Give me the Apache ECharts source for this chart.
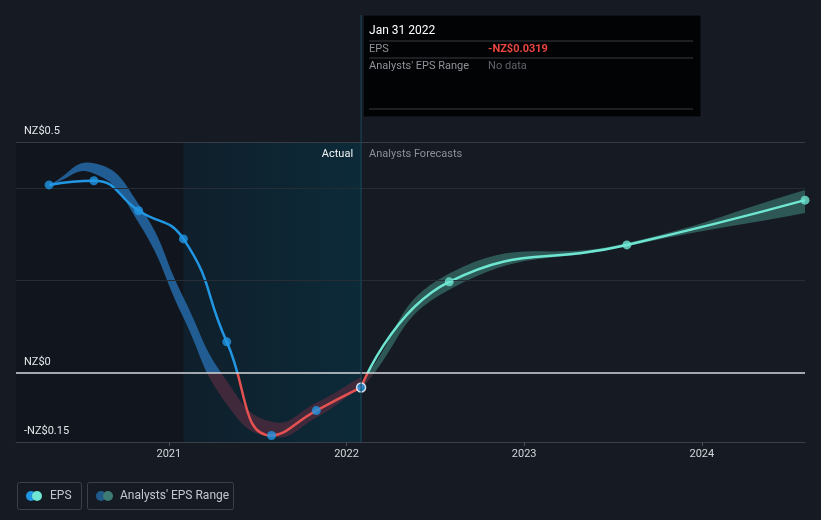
<!DOCTYPE html>
<html><head><meta charset="utf-8">
<script src="https://cdn.jsdelivr.net/npm/echarts@6/dist/echarts.min.js"></script>
<style>html,body{margin:0;padding:0;background:#151a23}#c{width:821px;height:520px}</style>
</head><body><div id="c"></div>
<script>
// ---- data ----
const actualDates = ['2020-04-30','2020-07-31','2020-10-31','2021-01-31','2021-04-30','2021-07-31','2021-10-31','2022-01-31'];
const actualEps = [0.407, 0.416, 0.351, 0.290, 0.067, -0.136, -0.082, -0.0319];
const pastRangeLow = [0.407, 0.432, 0.325, 0.119, -0.068, -0.139, -0.097, -0.030];
const pastRangeHigh = [0.407, 0.454, 0.365, 0.163, -0.018, -0.106, -0.065, -0.009];
const forecastDates = ['2022-01-31','2022-07-31','2023-07-31','2024-07-31'];
const forecastEps = [-0.0319, 0.197, 0.277, 0.374];
const forecastLow = [-0.035, 0.180, 0.274, 0.346];
const forecastHigh = [-0.020, 0.215, 0.281, 0.396];
const yLabelValues = [-0.15, 0, 0.5];
const yGridValues = [0.2, 0.4, 0.5];
const xTickYears = [2021, 2022, 2023, 2024];
const axisStart = '2020-02-22';
const axisEnd = '2024-07-31';
const highlightStart = '2021-01-31';
const cutDate = '2022-01-31';
const tipTitle = 'Jan 31 2022';
const tipEps = '-NZ$0.0319';

const ts = s => { const p = s.split('-').map(Number); return new Date(p[0], p[1] - 1, p[2]).getTime(); };
const yearTs = xTickYears.map(y => new Date(y, 0, 1).getTime());
const pair = (d, v) => d.map((x, i) => [ts(x), v[i]]);
const triple = (d, lo, hi) => d.map((x, i) => [ts(x), lo[i], hi[i]]);

const BLUE = '#2196e3', RED = '#e45151', TEAL = '#6ee6d2';
const FONT = 'Roboto, "Noto Sans", sans-serif';
const signPieces = (neg, pos) => [{gte: -1, lt: 0, color: neg}, {gte: 0, lte: 1, color: pos}];

// smooth curve through pixel points (same control-point rule as ECharts line smoothing)
function smoothPoints(pts, smooth) {
  const n = pts.length, cps = [];
  for (let i = 0; i < n; i++) {
    const p = pts[i], prev = pts[i - 1] || p, next = pts[i + 1] || p;
    const vx = next[0] - prev[0], vy = next[1] - prev[1];
    const l0 = Math.hypot(p[0] - prev[0], p[1] - prev[1]), l1 = Math.hypot(next[0] - p[0], next[1] - p[1]);
    const r = (l0 + l1) ? l1 / (l0 + l1) : 0.5;
    cps.push({cin: [p[0] - vx * smooth * (1 - r), p[1] - vy * smooth * (1 - r)],
              cout: [p[0] + vx * smooth * r, p[1] + vy * smooth * r]});
  }
  const out = [pts[0]];
  for (let i = 1; i < n; i++) {
    const p0 = pts[i - 1], c1 = cps[i - 1].cout, c2 = cps[i].cin, p1 = pts[i];
    for (let k = 1; k <= 16; k++) {
      const t = k / 16, u = 1 - t;
      out.push([u*u*u*p0[0] + 3*u*u*t*c1[0] + 3*u*t*t*c2[0] + t*t*t*p1[0],
                u*u*u*p0[1] + 3*u*u*t*c1[1] + 3*u*t*t*c2[1] + t*t*t*p1[1]]);
    }
  }
  return out;
}
function bandRenderer(posColor, negColor) {
  return function (params, api) {
    if (params.dataIndexInside !== 0) return null;
    const n = params.dataInsideLength, up = [], lo = [];
    for (let i = 0; i < n; i++) {
      up.push(api.coord([api.value(0, i), api.value(2, i)]));
      lo.push(api.coord([api.value(0, i), api.value(1, i)]));
    }
    const zeroY = api.coord([api.value(0, 0), 0])[1];
    const poly = smoothPoints(up, 0.5).concat(smoothPoints(lo, 0.5).reverse());
    return {
      type: 'polygon', shape: {points: poly},
      style: {fill: new echarts.graphic.LinearGradient(0, zeroY - 0.5, 0, zeroY + 0.5,
        [{offset: 0, color: posColor}, {offset: 1, color: negColor}], true)}
    };
  };
}

const chart = echarts.init(document.getElementById('c'), null, {renderer: 'canvas'});

const option = {
  animation: false,
  backgroundColor: '#151a23',
  textStyle: {fontFamily: FONT},
  grid: {left: 16, right: 16, top: 142, bottom: 78, containLabel: false},
  xAxis: {
    type: 'value', min: ts(axisStart), max: ts(axisEnd), scale: true, z: 10,
    axisLine: {show: true, onZero: false, lineStyle: {color: '#3a4049', width: 1}},
    axisTick: {show: true, customValues: yearTs, length: 4, lineStyle: {color: '#4a5059'}},
    axisLabel: {customValues: yearTs, formatter: v => String(new Date(v).getFullYear()),
      color: '#d3d6da', fontSize: 11, margin: 7, fontFamily: FONT},
    splitLine: {show: false}
  },
  yAxis: {
    type: 'value', min: -0.15, max: 0.5, z: 10,
    axisLine: {show: false}, axisTick: {show: false}, splitLine: {show: false},
    axisLabel: {
      inside: true, customValues: yLabelValues, verticalAlign: 'bottom', margin: 8,
      padding: [0, 0, 5, 0], color: '#e4e6e9', fontSize: 11, fontFamily: FONT,
      formatter: v => Math.abs(v) < 1e-9 ? 'NZ$0' : (v < 0 ? '-NZ$' + (+Math.abs(v).toFixed(2)) : 'NZ$' + (+v.toFixed(2)))
    }
  },
  visualMap: [
    {type: 'piecewise', show: false, seriesIndex: 4, dimension: 1, pieces: signPieces(RED, BLUE)},
    {type: 'piecewise', show: false, seriesIndex: 5, dimension: 1, pieces: signPieces(RED, TEAL)}
  ],
  series: [
    {type: 'line', name: 'bg', data: [], z: 1, silent: true,
      markArea: {silent: true, data: [
        [{xAxis: ts(axisStart), itemStyle: {color: '#11161e'}}, {xAxis: ts(highlightStart)}],
        [{xAxis: ts(highlightStart), itemStyle: {color: new echarts.graphic.LinearGradient(0, 0, 1, 0, [
          {offset: 0, color: '#0f1f2b'}, {offset: 1, color: '#0c2a38'}])}}, {xAxis: ts(cutDate)}]
      ]},
      markLine: {silent: true, symbol: 'none', label: {show: false},
        data: yGridValues.map(v => ({yAxis: v, lineStyle: {color: v === 0.5 ? '#363c45' : '#272d36', type: 'solid', width: 1}}))}
    },
    {type: 'custom', name: 'pastRange', z: 2, silent: true, clip: true,
      data: triple(actualDates, pastRangeLow, pastRangeHigh), encode: {x: 0, y: [1, 2]},
      renderItem: bandRenderer('#215d92', '#40293a')},
    {type: 'custom', name: 'forecastRange', z: 2, silent: true, clip: true,
      data: triple(forecastDates, forecastLow, forecastHigh), encode: {x: 0, y: [1, 2]},
      renderItem: bandRenderer('#2d5855', '#3a2d38')},
    {type: 'line', name: 'zero', data: [], z: 3, silent: true,
      markLine: {silent: true, symbol: 'none', label: {show: false},
        data: [{yAxis: 0, lineStyle: {color: '#d4d7db', type: 'solid', width: 1.5}}]}},
    {type: 'line', name: 'EPS', smooth: 0.5, symbol: 'none', z: 4,
      data: pair(actualDates, actualEps), lineStyle: {width: 2.5}},
    {type: 'line', name: 'Forecast', smooth: 0.5, symbol: 'none', z: 4,
      data: pair(forecastDates, forecastEps), lineStyle: {width: 2.5}},
    {type: 'scatter', name: 'EPS points', z: 5, symbolSize: 9,
      data: pair(actualDates, actualEps).map((p, i, a) => i === a.length - 1
        ? {value: p, itemStyle: {color: BLUE, borderColor: '#ffffff', borderWidth: 1.5}} : p),
      itemStyle: {color: BLUE}},
    {type: 'scatter', name: 'Forecast points', z: 5, symbolSize: 9,
      data: pair(forecastDates, forecastEps).slice(1), itemStyle: {color: TEAL}}
  ]
};
chart.setOption(option);

const cutX = chart.convertToPixel({xAxisIndex: 0}, ts(cutDate));
const topY = chart.convertToPixel({yAxisIndex: 0}, 0.5);
const botY = chart.convertToPixel({yAxisIndex: 0}, -0.15);
const bx = cutX + 2, by = 15, bw = 338, bh = 102;
chart.setOption({
  graphic: [
    {type: 'line', z: 10, silent: true, shape: {x1: cutX, y1: by, x2: cutX, y2: botY},
      style: {stroke: '#1c4a5d', lineWidth: 1}},
    {type: 'text', z: 10, silent: true, x: cutX - 8, y: topY + 12,
      style: {text: 'Actual', fill: '#f2f3f5', font: '11px ' + FONT, align: 'right', verticalAlign: 'middle'}},
    {type: 'text', z: 10, silent: true, x: cutX + 8, y: topY + 12,
      style: {text: 'Analysts Forecasts', fill: '#8b9098', font: '11px ' + FONT, align: 'left', verticalAlign: 'middle'}},
    {type: 'group', z: 20, x: bx, y: by, silent: true, children: [
      {type: 'rect', shape: {x: 0, y: 0, width: bw, height: bh}, style: {fill: '#020304', stroke: '#1b2029', lineWidth: 1}},
      {type: 'text', x: 6, y: 16, style: {text: tipTitle, fill: '#ffffff', font: '12px ' + FONT, verticalAlign: 'middle'}},
      {type: 'line', shape: {x1: 6, y1: 26, x2: 330, y2: 26}, style: {stroke: '#3a3d42', lineWidth: 1}},
      {type: 'text', x: 6, y: 34, style: {text: 'EPS', fill: '#8f9399', font: '11px ' + FONT, verticalAlign: 'middle'}},
      {type: 'text', x: 125, y: 34, style: {text: tipEps, fill: '#e8453f', font: 'bold 11px ' + FONT, verticalAlign: 'middle'}},
      {type: 'line', shape: {x1: 6, y1: 43, x2: 330, y2: 43}, style: {stroke: '#3a3d42', lineWidth: 1}},
      {type: 'text', x: 6, y: 51, style: {text: "Analysts' EPS Range", fill: '#8f9399', font: '11px ' + FONT, verticalAlign: 'middle'}},
      {type: 'text', x: 125, y: 51, style: {text: 'No data', fill: '#5f636a', font: '11px ' + FONT, verticalAlign: 'middle'}},
      {type: 'line', shape: {x1: 6, y1: 94, x2: 330, y2: 94}, style: {stroke: '#3a3d42', lineWidth: 1}}
    ]},
    {type: 'group', z: 20, x: 17, y: 482, silent: true, children: [
      {type: 'rect', shape: {x: 0.5, y: 0.5, width: 64, height: 27, r: 2}, style: {fill: 'none', stroke: '#3b4049', lineWidth: 1}},
      {type: 'circle', shape: {cx: 14, cy: 14, r: 5}, style: {fill: BLUE}},
      {type: 'circle', shape: {cx: 20, cy: 14, r: 5}, style: {fill: TEAL}},
      {type: 'text', x: 33, y: 14, style: {text: 'EPS', fill: '#c4c8ce', font: '12px ' + FONT, verticalAlign: 'middle'}},
      {type: 'rect', shape: {x: 70.5, y: 0.5, width: 146, height: 27, r: 2}, style: {fill: 'none', stroke: '#3b4049', lineWidth: 1}},
      {type: 'circle', shape: {cx: 84, cy: 14, r: 5}, style: {fill: '#1f5a88'}},
      {type: 'circle', shape: {cx: 91, cy: 14, r: 5}, style: {fill: '#3d7c75'}},
      {type: 'text', x: 103, y: 14, style: {text: "Analysts' EPS Range", fill: '#c4c8ce', font: '12px ' + FONT, verticalAlign: 'middle'}}
    ]}
  ]
});
</script>
</body></html>
